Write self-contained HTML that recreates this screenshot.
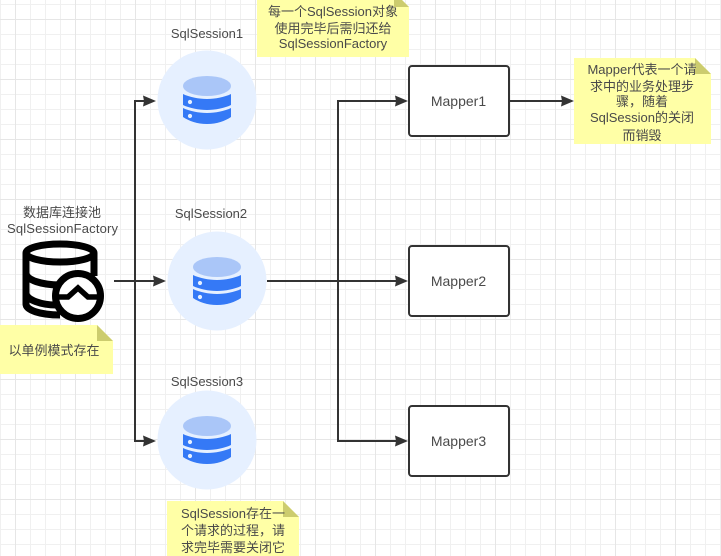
<!DOCTYPE html>
<html><head><meta charset="utf-8"><style>html,body{margin:0;padding:0;background:#fff}svg{display:block}text{font-family:"Liberation Sans","Noto Sans CJK SC",sans-serif;font-size:13px;fill:#4a4a4a;text-anchor:middle}</style></head><body>
<svg width="721" height="556" viewBox="0 0 721 556" xmlns="http://www.w3.org/2000/svg">
<defs>
<pattern id="g1" x="0" y="4" width="15" height="15" patternUnits="userSpaceOnUse"><rect width="1" height="15" fill="#f0f0f0"/><rect width="15" height="1" fill="#f0f0f0"/></pattern>
<pattern id="g2" x="15" y="19" width="60" height="60" patternUnits="userSpaceOnUse"><rect width="1" height="60" fill="#e6e6e6"/><rect width="60" height="1" fill="#e6e6e6"/></pattern>
<g id="db">
<circle r="49.5" fill="#e6f0ff"/>
<ellipse cx="0" cy="-14" rx="24" ry="10" fill="#aac6f8"/>
<path d="M-24-6C-18-3-8-1 0-1S18-3 24-6V5C18 8 8 10 0 10S-18 8-24 5Z" fill="#3579f6"/>
<path d="M-24 8C-18 11-8 13 0 13S18 11 24 8V17C18 21 10 24 0 24S-18 21-24 17Z" fill="#3579f6"/>
<circle cx="-17" cy="2" r="2.100" fill="#e6f0ff"/><circle cx="-17" cy="16" r="2.100" fill="#e6f0ff"/>
</g>
<path id="ar" d="M0 0L-13-5.500L-12 0L-13 5.500Z" fill="#333"/>
</defs>
<rect width="721" height="556" fill="url(#g1)"/>
<rect width="721" height="556" fill="url(#g2)"/>

<g fill="none" stroke="#333" stroke-width="2">
<path d="M114 281H154"/>
<path d="M145 101H135V441H145"/>
<path d="M267 281H396"/>
<path d="M396 101H338V441H396"/>
<path d="M510 101H562"/>
</g>
<use href="#ar" x="156" y="101"/><use href="#ar" x="166" y="281"/><use href="#ar" x="156" y="441"/>
<use href="#ar" x="408" y="101"/><use href="#ar" x="408" y="281"/><use href="#ar" x="408" y="441"/>
<use href="#ar" x="574" y="101"/>

<use href="#db" x="207" y="100"/><use href="#db" x="217" y="281"/><use href="#db" x="207" y="440"/>

<g fill="#fff" stroke="#333" stroke-width="2">
<rect x="409" y="66" width="100" height="70" rx="3"/>
<rect x="409" y="246" width="100" height="70" rx="3"/>
<rect x="409" y="406" width="100" height="70" rx="3"/>
</g>
<text style="font-size:14px" x="458.500" y="106">Mapper1</text><text style="font-size:14px" x="458.500" y="286">Mapper2</text><text style="font-size:14px" x="458.500" y="446">Mapper3</text>

<text x="207" y="38">SqlSession1</text><text x="211" y="218">SqlSession2</text><text x="207" y="386">SqlSession3</text>

<g fill="none" stroke="#000" stroke-width="7">
<ellipse cx="60" cy="253" rx="34" ry="9"/>
<path d="M26 253V304C26 310 40 315 60 315"/>
<path d="M94 253V276"/>
<path d="M26 273C26 280 42 285 60 285H66"/>
<path d="M26 293C26 300 42 305 56 305"/>
</g>
<circle cx="78" cy="296" r="22.500" fill="#fff" stroke="#000" stroke-width="7"/>
<path d="M55 297H68L78 288L88 297H101" fill="none" stroke="#000" stroke-width="5.500"/>
<text x="62" y="217">数据库连接池</text><text x="62.500" y="233" textLength="111" lengthAdjust="spacing">SqlSessionFactory</text>

<path d="M0 325H97L113 341V374H0Z" fill="#ffffa6"/><path d="M97 325L113 341H97Z" fill="#cccc6e"/>
<text x="54" y="355">以单例模式存在</text>

<path d="M257-8H394L409 7V57H257Z" fill="#ffffa6"/><path d="M394-8L409 7H394Z" fill="#cccc6e"/>
<text x="333" y="16">每一个SqlSession对象</text><text x="333" y="33">使用完毕后需归还给</text><text x="333" y="48">SqlSessionFactory</text>

<path d="M574 58H695L711 74V144H574Z" fill="#ffffa6"/><path d="M695 58L711 74H695Z" fill="#cccc6e"/>
<text x="642" y="74">Mapper代表一个请</text><text x="642" y="91">求中的业务处理步</text><text x="642" y="106">骤，随着</text><text x="642" y="122">SqlSession的关闭</text><text x="642" y="140">而销毁</text>

<path d="M167 501H283L299 517V556H167Z" fill="#ffffa6"/><path d="M283 501L299 517H283Z" fill="#cccc6e"/>
<text x="233" y="518">SqlSession存在一</text><text x="233" y="535">个请求的过程，请</text><text x="233" y="552">求完毕需要关闭它</text>
</svg>
</body></html>
